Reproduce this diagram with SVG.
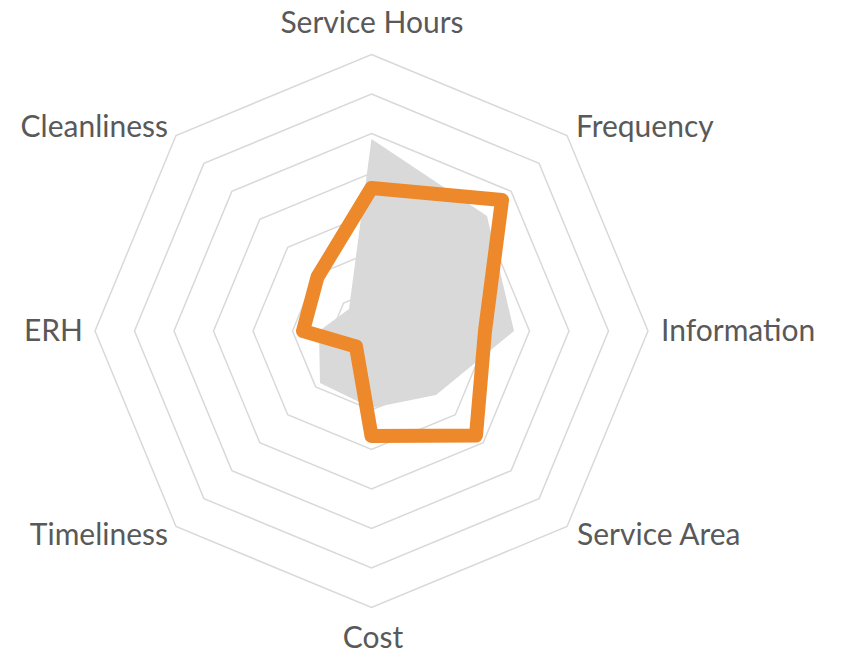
<svg xmlns="http://www.w3.org/2000/svg" width="843" height="655" viewBox="0 0 843 655">
<style>
.grid{fill:none;stroke:#d9d9d9;stroke-width:1.5}
.lbl{font-family:Lato,"Open Sans","Liberation Sans",sans-serif;font-size:30px;fill:#595959}
</style>
<rect width="843" height="655" fill="#ffffff"/>
<g id="grid">
<polygon class="grid" points="371.5,291.5 399.43,303.07 411,331 399.43,358.93 371.5,370.5 343.57,358.93 332,331 343.57,303.07"/>
<polygon class="grid" points="371.5,252 427.36,275.14 450.5,331 427.36,386.86 371.5,410 315.64,386.86 292.5,331 315.64,275.14"/>
<polygon class="grid" points="371.5,212.5 455.29,247.21 490,331 455.29,414.79 371.5,449.5 287.71,414.79 253,331 287.71,247.21"/>
<polygon class="grid" points="371.5,173 483.22,219.28 529.5,331 483.22,442.72 371.5,489 259.78,442.72 213.5,331 259.78,219.28"/>
<polygon class="grid" points="371.5,133.5 511.15,191.35 569,331 511.15,470.65 371.5,528.5 231.85,470.65 174,331 231.85,191.35"/>
<polygon class="grid" points="371.5,94 539.08,163.42 608.5,331 539.08,498.58 371.5,568 203.92,498.58 134.5,331 203.92,163.42"/>
<polygon class="grid" points="371.5,54.5 567.01,135.49 648,331 567.01,526.51 371.5,607.5 175.99,526.51 95,331 175.99,135.49"/>
</g>
<g id="series-grey">
<polygon points="371.5,139 487,216 514,331 436,395 371.5,408 320,383 319,331 349,309" fill="#d9d9d9"/>
</g>
<g id="series-orange">
<polygon points="371.5,188 502,200 485,331 476,435.5 371.5,436 356,346.5 303,331 317.5,277" fill="none" stroke="#ED882B" stroke-width="14" stroke-linejoin="round"/>
</g>
<g id="labels">
<text class="lbl" x="372" y="33" text-anchor="middle">Service Hours</text>
<text class="lbl" x="576" y="137">Frequency</text>
<text class="lbl" x="661" y="341">Information</text>
<text class="lbl" x="577" y="545">Service Area</text>
<text class="lbl" x="373" y="648" text-anchor="middle">Cost</text>
<text class="lbl" x="168" y="545" text-anchor="end">Timeliness</text>
<text class="lbl" x="83" y="341" text-anchor="end">ERH</text>
<text class="lbl" x="168" y="137" text-anchor="end">Cleanliness</text>
</g>
</svg>
